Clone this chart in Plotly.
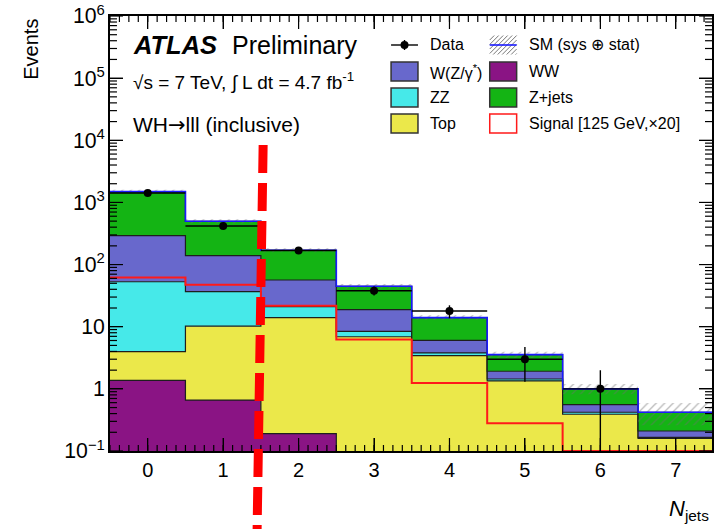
import math
import plotly.graph_objects as go

# ---- data -------------------------------------------------------------
bin_edges = [-0.5, 0.5, 1.5, 2.5, 3.5, 4.5, 5.5, 6.5, 7.5]
njets = [0, 1, 2, 3, 4, 5, 6, 7]

# background expectations per jet-multiplicity bin (stacked bottom -> top)
ww = [1.37, 0.66, 0.19, 0, 0, 0, 0, 0]
top = [2.59, 9.54, 13.8, 6.9, 3.42, 1.34, 0.39, 0.16]
zz = [49.0, 26.4, 7.0, 1.5, 0.36, 0.10, 0.03, 0.006]
wz = [239.0, 102.4, 35.5, 10.4, 2.26, 0.48, 0.136, 0.044]
zjets = [1198.0, 358.0, 113.5, 25.9, 7.96, 1.63, 0.444, 0.21]

# SM uncertainty band (sys + stat)
sm_up = [1600, 535, 183, 48.5, 15.3, 3.95, 1.2, 0.59]
sm_down = [1385, 460, 158, 41.0, 12.8, 3.15, 0.82, 0.26]

# signal, mH = 125 GeV scaled x20
signal = [62.0, 47.4, 21.8, 6.2, 1.24, 0.28, 0.1, 0.1]

# observed data
data = [1420, 418, 168, 38, 17.9, 3.0, 1.0, None]
data_err = [38, 20, 13, 6.2, 4.2, 1.7, 1.0, None]
data_xerr = [0.5, 0.5, 0.5, 0.5, 0.5, 0.5, 0.5, 0.5]

# ---- style ------------------------------------------------------------
FONT = "Liberation Sans, Arial, Helvetica, sans-serif"
C_WW = "#8a1484"
C_TOP = "#ebe84a"
C_ZZ = "#46e9e9"
C_WZ = "#6868cc"
C_ZJ = "#14b414"
C_SIG = "#ff1a1a"
C_SM = "#1a1aff"
OUTLINE = "#1e1e1e"
FLOOR = 1e-3

W, H = 714, 529
ML, MR, MT, MB = 110, 0, 16, 78
X_RANGE = [-0.5, 7.48]
Y_RANGE = [-1, 6]

# axis subdivision tick positions (ROOT-style)
x_major = njets
x_minor = [i / 8 for i in range(-4, 60)]
y_major = [10.0 ** e for e in range(-1, 7)]
y_minor = [m * 10.0 ** e for e in range(-1, 6) for m in range(2, 10)]


def step(vals):
    """Repeat last value so an 'hv' line closes the final bin."""
    return list(vals) + [vals[-1]]


def cumulate(*layers):
    out, run = [], [0.0] * len(layers[0])
    for layer in layers:
        run = [a + b for a, b in zip(run, layer)]
        out.append([max(v, FLOOR) for v in run])
    return out


c_ww, c_top, c_zz, c_wz, c_zj = cumulate(ww, top, zz, wz, zjets)

fig = go.Figure()

# invisible floor for the first fill
fig.add_trace(go.Scatter(x=bin_edges, y=step([FLOOR] * 8), mode="lines",
                         line=dict(width=0, shape="hv"), showlegend=False,
                         hoverinfo="skip"))
for cum, col in [(c_ww, C_WW), (c_top, C_TOP), (c_zz, C_ZZ),
                 (c_wz, C_WZ), (c_zj, C_ZJ)]:
    fig.add_trace(go.Scatter(x=bin_edges, y=step(cum), mode="lines",
                             line=dict(color=OUTLINE, width=1.2, shape="hv"),
                             fill="tonexty", fillcolor=col, showlegend=False))

# hatched SM uncertainty band
fig.add_trace(go.Scatter(x=bin_edges, y=step(sm_up), mode="lines",
                         line=dict(width=0, shape="hv"), showlegend=False))
fig.add_trace(go.Scatter(x=bin_edges, y=step(sm_down), mode="lines",
                         line=dict(width=0, shape="hv"), fill="tonexty",
                         fillcolor="rgba(0,0,0,0)",
                         fillpattern=dict(shape="/", fgcolor="#6e6e6e",
                                          bgcolor="rgba(0,0,0,0)", size=6,
                                          solidity=0.2),
                         showlegend=False))

# SM total line
fig.add_trace(go.Scatter(x=bin_edges, y=step(c_zj), mode="lines",
                         line=dict(color=C_SM, width=1.6, shape="hv"),
                         showlegend=False))

# signal
fig.add_trace(go.Scatter(x=bin_edges, y=step(signal), mode="lines",
                         line=dict(color=C_SIG, width=2, shape="hv"),
                         showlegend=False))

# data
fig.add_trace(go.Scatter(x=njets, y=data, mode="markers",
                         marker=dict(color="black", size=8),
                         error_y=dict(type="data", array=data_err,
                                      color="black", thickness=1.4, width=0),
                         error_x=dict(type="data", array=data_xerr,
                                      color="black", thickness=1.4, width=0),
                         showlegend=False))

# ---- axes -------------------------------------------------------------
common = dict(ticks="inside", tickwidth=1.2, tickcolor="black", mirror="ticks",
              showgrid=False, zeroline=False, layer="above traces")
fig.update_layout(
    width=W, height=H,
    margin=dict(l=ML, r=MR, t=MT, b=MB),
    paper_bgcolor="white", plot_bgcolor="white",
    font=dict(family=FONT, color="black"),
    xaxis=dict(range=X_RANGE, tickmode="array", tickvals=x_major, ticklen=13,
               showline=True, linecolor="black", linewidth=1.5,
               tickfont=dict(size=20, family=FONT), **common),
    yaxis=dict(type="log", range=Y_RANGE, dtick=1, exponentformat="power",
               ticklen=13, showline=True, linecolor="black", linewidth=1.5,
               tickfont=dict(size=17, family=FONT), **common),
)

PW, PH = W - ML - MR, H - MT - MB


def px(xp):
    return (xp - ML) / PW


def py(yp):
    return (H - MB - yp) / PH


def yfrac(v):
    """Position of a log-axis value as a fraction of the plot height."""
    return (math.log10(v) - Y_RANGE[0]) / (Y_RANGE[1] - Y_RANGE[0])


annotations = []
shapes = []

# inward tick marks on all four sides, ROOT style
for vals, length in [(x_major, 13), (x_minor, 6)]:
    for v in vals:
        for base, sign in [(0.0, 1), (1.0, -1)]:
            shapes.append(dict(type="line", xref="x", yref="paper",
                               x0=v, x1=v, y0=base,
                               y1=base + sign * length / PH,
                               line=dict(color="black", width=1.2),
                               layer="above"))
for vals, length in [(y_major, 13), (y_minor, 7)]:
    for v in vals:
        f = yfrac(v)
        for base, sign in [(0.0, 1), (1.0, -1)]:
            shapes.append(dict(type="line", xref="paper", yref="paper",
                               x0=base, x1=base + sign * length / PW,
                               y0=f, y1=f,
                               line=dict(color="black", width=1.2),
                               layer="above"))


def text(x, y, s, size, xanchor="left", yanchor="middle", **kw):
    annotations.append(dict(x=px(x), y=py(y), xref="paper", yref="paper",
                            text=s, showarrow=False, xanchor=xanchor,
                            yanchor=yanchor,
                            font=dict(size=size, family=FONT, color="black"),
                            **kw))


text(131, 45, "<b><i>ATLAS</i></b>", 25.5)
text(230, 45, "Preliminary", 25)
text(131, 82, "\u221As = 7 TeV, \u222B L dt = 4.7 fb<sup>-1</sup>", 19)
text(131, 125, "WH<span style='font-family:DejaVu Sans'>\u2192</span>lll (inclusive)", 21)
text(30, 17, "Events", 20, xanchor="center", yanchor="top", textangle=-90)
text(713, 510, "<i>N</i><sub>jets</sub>", 22, xanchor="right")

# legend
col1_box, col2_box = (392, 419), (491, 518)
col1_txt, col2_txt = 429, 528
rows = [45, 71.5, 97.5, 123.5]
bh = 9.5


def box(x0, x1, yc, fill, line):
    shapes.append(dict(type="rect", xref="paper", yref="paper",
                       x0=px(x0), x1=px(x1), y0=py(yc + bh), y1=py(yc - bh),
                       fillcolor=fill, line=dict(color=line, width=1.5)))


def seg(x0, y0, x1, y1, color, width):
    shapes.append(dict(type="line", xref="paper", yref="paper",
                       x0=px(x0), y0=py(y0), x1=px(x1), y1=py(y1),
                       line=dict(color=color, width=width)))


# Data entry
seg(col1_box[0], rows[0], col1_box[1], rows[0], "black", 1.4)
seg((col1_box[0] + col1_box[1]) / 2, rows[0] - 5, (col1_box[0] + col1_box[1]) / 2,
    rows[0] + 5, "black", 1.4)
shapes.append(dict(type="circle", xref="paper", yref="paper",
                   x0=px(401.5), x1=px(409.5), y0=py(49), y1=py(41),
                   fillcolor="black", line=dict(color="black", width=0)))
text(col1_txt, rows[0], "Data", 16)

# SM entry: hatched box with blue line
hx0, hx1 = col2_box
hy0, hy1 = rows[0] + bh, rows[0] - bh
hh = hy0 - hy1
k = hx0 - hh
while k < hx1:
    xa, ya, xb, yb = k, hy0, k + hh, hy1
    if xa < hx0:
        ya -= hx0 - xa
        xa = hx0
    if xb > hx1:
        yb += xb - hx1
        xb = hx1
    seg(xa, ya, xb, yb, "#777777", 1)
    k += 4.5
seg(hx0, rows[0], hx1, rows[0], C_SM, 1.6)
text(col2_txt, rows[0], "SM (sys \u2295 stat)", 16)

box(*col1_box, rows[1], C_WZ, "#333333")
text(col1_txt, rows[1], "W(Z/\u03B3<sup>*</sup>)", 16)
box(*col1_box, rows[2], C_ZZ, "#333333")
text(col1_txt, rows[2], "ZZ", 16)
box(*col1_box, rows[3], C_TOP, "#333333")
text(col1_txt, rows[3], "Top", 16)
box(*col2_box, rows[1], C_WW, "#333333")
text(col2_txt, rows[1], "WW", 16)
box(*col2_box, rows[2], C_ZJ, "#333333")
text(col2_txt, rows[2], "Z+jets", 16)
box(*col2_box, rows[3], "white", C_SIG)
text(col2_txt, rows[3], "Signal [125 GeV,\u00D720]", 16)

# jet-multiplicity cut marker
shapes.append(dict(type="line", xref="x", yref="paper",
                   x0=1.53, y0=py(145), x1=1.45, y1=py(529),
                   line=dict(color="#ff0000", width=9, dash="28px,10px")))

fig.update_layout(annotations=annotations, shapes=shapes)
fig.write_html("out.html")
